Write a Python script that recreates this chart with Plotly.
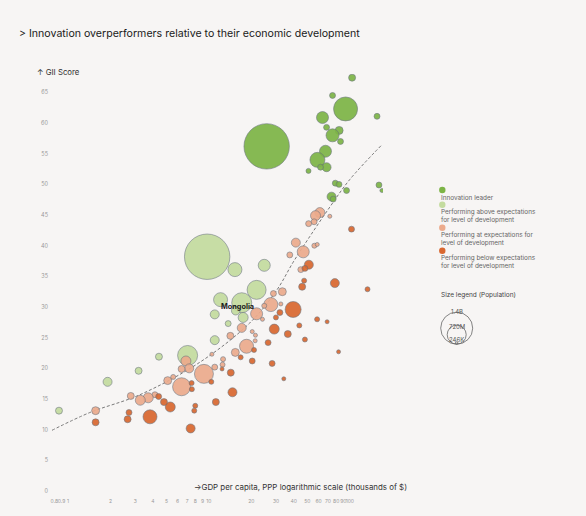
import math
import plotly.graph_objects as go

# ---------------- data (GDP per capita PPP, thousands $ / GII score / population, millions) -------------
leader_gdp = [103.8, 75.4, 93.3, 64.0, 156, 68.4, 84.0, 75.4, 85.9, 25.7, 67.2, 58.9, 68.4, 62.0, 50.9,
              78.9, 83.8, 94.8, 161, 169, 74.2, 76.2]
leader_gii = [67.4, 64.5, 62.3, 60.9, 61.1, 59.3, 58.8, 58.0, 57.0, 56.2, 55.4, 54.0, 52.8, 52.8, 52.2,
              50.2, 50.0, 49.0, 49.9, 49.0, 48.0, 47.6]
leader_pop = [33, 24, 391, 98, 24, 24, 43, 115, 24, 1400, 98, 153, 55, 24, 17,
              24, 24, 24, 24, 11, 55, 24]

above_gdp = [9.72, 15.3, 24.7, 21.8, 12.1, 17.1, 15.5, 17.5, 11.0, 13.7, 11.0, 7.06, 4.42, 3.17, 1.91, 0.863]
above_gii = [38.2, 36.1, 36.8, 32.8, 31.2, 30.7, 29.4, 28.3, 28.8, 27.3, 24.6, 22.1, 21.9, 19.6, 17.8, 13.1]
above_pop = [1400, 133, 98, 245, 133, 272, 50, 68, 55, 24, 55, 272, 33, 33, 55, 33]

at_gdp = [61.3, 57.1, 55.8, 51.0, 72.1, 41.4, 46.7, 56.0, 58.7, 37.5, 44.9, 33.2, 28.7, 27.5, 32.4, 24.7,
          21.8, 24.0, 17.1, 14.2, 20.3, 21.4, 21.3, 18.5, 15.4, 10.5, 12.6, 12.5, 11.0, 9.22, 6.87, 7.25,
          6.40, 6.40, 5.10, 5.58, 4.14, 3.71, 3.26, 2.79, 1.57]
at_gii = [45.4, 44.9, 43.9, 43.6, 44.8, 40.5, 39.0, 40.0, 40.2, 38.5, 36.1, 32.5, 32.2, 30.4, 30.5, 30.2,
          28.9, 28.0, 26.6, 25.3, 26.0, 25.4, 24.5, 23.6, 22.6, 22.3, 21.5, 20.6, 20.2, 19.1, 21.2, 20.0,
          19.9, 17.0, 18.0, 18.6, 15.7, 15.2, 14.8, 15.5, 13.1]
at_pop = [68, 68, 24, 24, 11, 55, 98, 17, 11, 24, 24, 43, 24, 133, 11, 17,
          98, 11, 55, 33, 11, 11, 11, 133, 43, 11, 17, 17, 24, 245, 68, 55,
          33, 220, 43, 17, 24, 68, 68, 33, 43]

below_gdp = [102.8, 51.2, 48.0, 47.4, 45.9, 78.3, 133.5, 39.6, 31.9, 29.9, 58.6, 69.0, 29.1, 36.3, 43.8,
             48.0, 83.2, 20.9, 26.3, 16.8, 20.3, 28.1, 12.4, 14.3, 34.0, 10.4, 14.7, 11.2, 7.54, 7.57,
             8.0, 7.87, 7.42, 5.32, 4.80, 4.40, 3.82, 2.71, 2.65, 1.57]
below_gii = [42.7, 36.9, 36.3, 34.3, 33.3, 33.9, 32.9, 29.6, 29.1, 28.3, 28.0, 27.6, 26.4, 25.6, 27.0,
             24.7, 22.7, 23.0, 24.2, 21.8, 21.2, 20.8, 19.9, 19.3, 18.3, 17.8, 16.1, 14.5, 17.6, 16.6,
             13.9, 13.1, 10.2, 13.7, 14.5, 15.4, 12.1, 12.8, 11.7, 11.2]
below_pop = [24, 55, 24, 17, 33, 55, 17, 174, 24, 17, 17, 11, 68, 33, 17,
             17, 6, 17, 24, 17, 24, 24, 11, 33, 11, 17, 55, 33, 17, 17,
             17, 17, 55, 68, 33, 24, 133, 24, 33, 33]

trend_gdp = [0.77, 1.43, 3.24, 8.63, 19.5, 30.2, 39.6, 52.0, 72.1, 100, 168]
trend_gii = [9.9, 12.8, 15.7, 21.0, 27.4, 32.7, 37.3, 41.5, 46.3, 50.8, 56.4]

label_country = "Mongolia"
label_gdp = 15.5
label_gii = 29.4

x_tickvals = [0.8, 0.9, 1, 2, 3, 4, 5, 6, 7, 8, 9, 10, 20, 30, 40, 50, 60, 70, 80, 90, 100]
x_ticktext = ["0.8", "0.9", "1", "2", "3", "4", "5", "6", "7", "8", "9", "10",
              "20", "30", "40", "50", "60", "70", "80", "90", "100"]
y_tickvals = list(range(0, 70, 5))

categories = ["Innovation leader",
              "Performing above expectations<br>for level of development",
              "Performing at expectations for<br>level of development",
              "Performing below expectations<br>for level of development"]
cat_colors = ["#7db446", "#c4dc9f", "#ecab8c", "#d9672f"]

size_legend_labels = ["1.4B", "720M", "246K"]

# ---------------- figure -------------
W, H = 586, 516
ML, MR, MT, MB = 52, 203, 74, 16
PW, PH = W - ML - MR, H - MT - MB
FONT = "Inter, Roboto, sans-serif"


def px(x):
    return (x - ML) / PW


def py(y):
    return (H - MB - y) / PH


SIZEREF = 2 * 1400 / (45.4 ** 2)

fig = go.Figure()

fig.add_trace(go.Scatter(x=trend_gdp, y=trend_gii, mode="lines",
                         line=dict(color="#7a7a7a", width=1, dash="3px,2px", shape="spline"),
                         hoverinfo="skip", showlegend=False))

series = [(leader_gdp, leader_gii, leader_pop), (above_gdp, above_gii, above_pop),
          (at_gdp, at_gii, at_pop), (below_gdp, below_gii, below_pop)]
for (gx, gy, gp), name, col in zip(series, categories, cat_colors):
    fig.add_trace(go.Scatter(
        x=gx, y=gy, mode="markers", name=name,
        marker=dict(size=gp, sizemode="area", sizeref=SIZEREF, sizemin=2,
                    color=col, opacity=0.92,
                    line=dict(color="rgba(100,110,122,0.65)", width=0.9)),
        showlegend=False))

annotations = [
    dict(text="> Innovation overperformers relative to their economic development",
         xref="paper", yref="paper", x=px(17), y=py(33), xanchor="left", yanchor="middle",
         showarrow=False, font=dict(size=10.6, color="#1a1a1a")),
    dict(text="↑ GII Score", xref="paper", yref="paper", x=px(35), y=py(72),
         xanchor="left", yanchor="middle", showarrow=False, font=dict(size=7.8, color="#333")),
    dict(text="→GDP per capita, PPP logarithmic scale (thousands of $)", xref="paper", yref="paper",
         x=px(300), y=py(496), xanchor="center", yanchor="middle", showarrow=False,
         font=dict(size=7.9, color="#333")),
    dict(text="<b>" + label_country + "</b>", x=math.log10(label_gdp), y=label_gii, xref="x", yref="y",
         xshift=2, yshift=4, showarrow=False, font=dict(size=7.3, color="#1a1a1a", family=FONT),
         xanchor="center", yanchor="middle"),
    dict(text="Size legend (Population)", xref="paper", yref="paper", x=px(439), y=py(300),
         xanchor="left", yanchor="middle", showarrow=False, font=dict(size=6.5, color="#444")),
]

shapes = []
dot_y = [192.5, 207.5, 231, 254.5]
text_y = [200.5, 219, 243, 266.5]
for name, col, dy, ty in zip(categories, cat_colors, dot_y, text_y):
    shapes.append(dict(type="circle", xref="paper", yref="paper", xsizemode="pixel", ysizemode="pixel",
                       xanchor=px(442.3), yanchor=py(dy), x0=-3.2, x1=3.2, y0=-3.2, y1=3.2,
                       fillcolor=col, line=dict(width=0)))
    annotations.append(dict(text=name, xref="paper", yref="paper", x=px(438.5), y=py(ty),
                            xanchor="left", yanchor="middle", align="left", showarrow=False,
                            font=dict(size=6.4, color="#666")))

# size legend circles (bottom aligned)
cx, cbottom = 456.7, 350
for r in [16, 9.5, 1.2]:
    shapes.append(dict(type="circle", xref="paper", yref="paper", xsizemode="pixel", ysizemode="pixel",
                       xanchor=px(cx), yanchor=py(cbottom), x0=-r, x1=r, y0=0, y1=2 * r,
                       fillcolor="rgba(0,0,0,0)", line=dict(color="#666", width=0.8)))
for lab, ly in zip(size_legend_labels, [316.5, 331.5, 345]):
    annotations.append(dict(text=lab, xref="paper", yref="paper", x=px(cx), y=py(ly),
                            xanchor="center", yanchor="middle", showarrow=False,
                            font=dict(size=6, color="#555")))

fig.update_layout(
    width=W, height=H,
    margin=dict(l=ML, r=MR, t=MT, b=MB, pad=0),
    paper_bgcolor="#f7f5f4", plot_bgcolor="#f7f5f4",
    font=dict(family=FONT, color="#333"),
    showlegend=False,
    annotations=annotations, shapes=shapes,
    xaxis=dict(type="log", range=[-0.1135, 2.2355], showgrid=False, zeroline=False, showline=False,
               tickvals=x_tickvals, ticktext=x_ticktext, tickfont=dict(size=5, color="#999"),
               ticks="", tickangle=0, ticklabelstandoff=6),
    yaxis=dict(range=[0, 68], showgrid=False, zeroline=False, showline=False,
               tickvals=y_tickvals, tickfont=dict(size=5.5, color="#999"), ticks="",
               ticklabelstandoff=3),
)

fig.write_html("out.html")
